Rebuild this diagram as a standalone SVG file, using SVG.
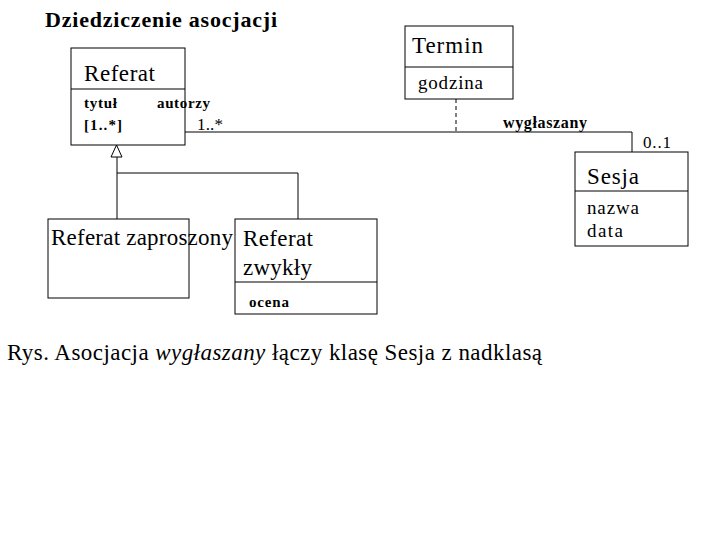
<svg xmlns="http://www.w3.org/2000/svg" width="720" height="540" viewBox="0 0 720 540">
<style>
text{font-family:"Liberation Serif","Times New Roman",serif;fill:#000}
.box{fill:#fff;stroke:#000;stroke-width:1}
.ln{fill:none;stroke:#000;stroke-width:1}
.big{font-size:23px}
.mid{font-size:19px}
.sb{font-size:15px;font-weight:bold}
</style>
<rect width="720" height="540" fill="#fff"/>
<text x="45" y="27" style="font-size:22px;font-weight:bold" textLength="232" lengthAdjust="spacing">Dziedziczenie asocjacji</text>
<g id="connectors">
<polyline class="ln" points="185,132 632,132 632,152"/>
<line class="ln" x1="456" y1="99" x2="456" y2="132" stroke-dasharray="4,3"/>
<polyline class="ln" points="117,157 117,219"/>
<polyline class="ln" points="117,173 298,173 298,219"/>
<polygon points="116.5,145 111,157 122,157" fill="#fff" stroke="#000"/>
</g>
<g id="referat">
<rect class="box" x="71" y="48" width="114" height="97"/>
<line class="ln" x1="71" y1="89" x2="185" y2="89"/>
<text x="84" y="81" class="big" textLength="71" lengthAdjust="spacing">Referat</text>
<text x="84" y="108" class="sb" textLength="33" lengthAdjust="spacing">tytuł</text>
<text x="84" y="130" class="sb" textLength="38" lengthAdjust="spacing">[1..*]</text>
</g>
<g id="termin">
<rect class="box" x="405" y="26" width="108" height="73"/>
<line class="ln" x1="405" y1="67" x2="513" y2="67"/>
<text x="412" y="53" class="big" textLength="71" lengthAdjust="spacing">Termin</text>
<text x="418" y="89" class="mid" textLength="65" lengthAdjust="spacing">godzina</text>
</g>
<g id="sesja">
<rect class="box" x="575" y="152" width="113" height="94"/>
<line class="ln" x1="575" y1="191" x2="688" y2="191"/>
<text x="587" y="184" class="big" textLength="52" lengthAdjust="spacing">Sesja</text>
<text x="587" y="214" class="mid" textLength="52" lengthAdjust="spacing">nazwa</text>
<text x="587" y="237" class="mid" textLength="36" lengthAdjust="spacing">data</text>
</g>
<g id="referat-zaproszony">
<rect class="box" x="48" y="219" width="141" height="79"/>
<text x="51" y="245" class="big" textLength="182" lengthAdjust="spacing">Referat zaproszony</text>
</g>
<g id="referat-zwykly">
<rect class="box" x="235" y="219" width="142" height="95"/>
<line class="ln" x1="235" y1="282" x2="377" y2="282"/>
<text x="243" y="246" class="big" textLength="70" lengthAdjust="spacing">Referat</text>
<text x="243" y="275" class="big" textLength="69" lengthAdjust="spacing">zwykły</text>
<text x="249" y="307" style="font-size:15px;font-weight:bold" textLength="40" lengthAdjust="spacing">ocena</text>
</g>
<g id="labels">
<text x="157" y="108" class="sb" textLength="53" lengthAdjust="spacing">autorzy</text>
<text x="197" y="130" style="font-size:17px" textLength="26" lengthAdjust="spacing">1..*</text>
<text x="503" y="128" style="font-size:16px;font-weight:bold" textLength="84" lengthAdjust="spacing">wygłaszany</text>
<text x="643" y="148" style="font-size:17px" textLength="28" lengthAdjust="spacing">0..1</text>
</g>
<text x="7" y="360" style="font-family:'Liberation Serif',serif;font-size:23px" textLength="535" lengthAdjust="spacing">Rys. Asocjacja <tspan font-style="italic">wygłaszany</tspan> łączy klasę Sesja z nadklasą</text>
</svg>
